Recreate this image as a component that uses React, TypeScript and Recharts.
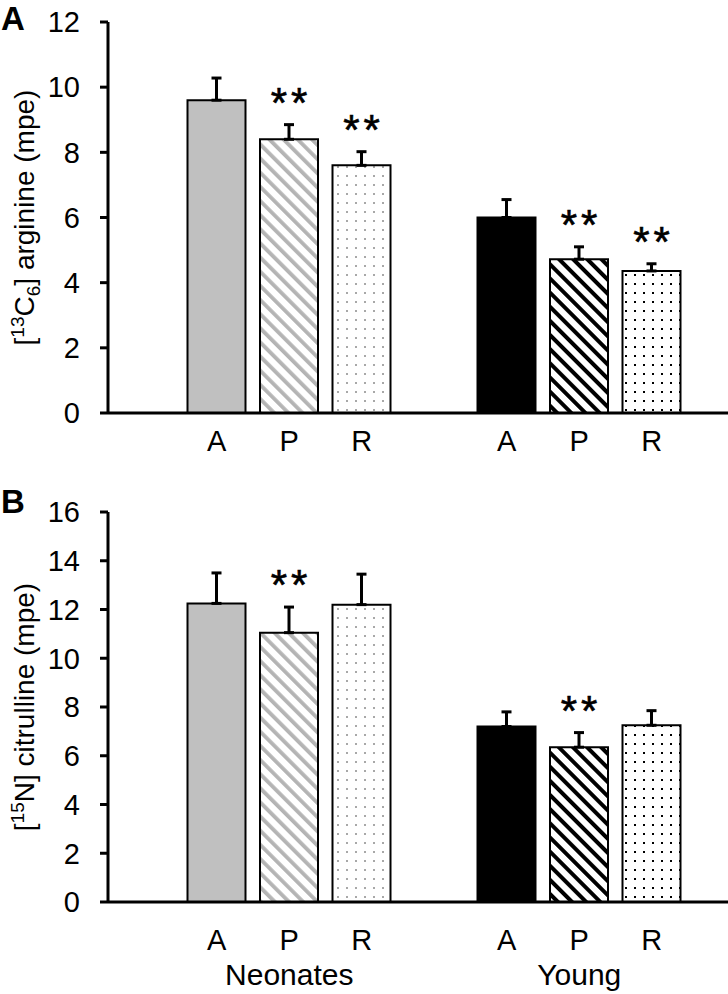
import { BarChart, Bar, XAxis, YAxis, ErrorBar, Cell, LabelList, Label } from "recharts"

const groups = ["Neonates", "Young"]
const treatments = ["A", "P", "R"]

const arginineMean = [9.6, 8.4, 7.6, 6.0, 4.72, 4.36]
const arginineSem = [0.68, 0.45, 0.42, 0.55, 0.38, 0.22]
const arginineSig = ["", "**", "**", "", "**", "**"]
const arginineTicks = [0, 2, 4, 6, 8, 10, 12]

const citrullineMean = [12.25, 11.05, 12.2, 7.2, 6.35, 7.25]
const citrullineSem = [1.25, 1.05, 1.25, 0.6, 0.6, 0.6]
const citrullineSig = ["", "**", "", "", "**", ""]
const citrullineTicks = [0, 2, 4, 6, 8, 10, 12, 14, 16]

const FONT = "'Liberation Sans', Arial, sans-serif"

// fills per group, per treatment
const fills = [
  ["#c0c0c0", "url(#stripeGray)", "url(#dotGray)"],
  ["#000000", "url(#stripeBlack)", "url(#dotBlack)"],
]

type Row = {
  key: string
  label: string
  group: string
  mean: number | null
  err: number[] | null
  sem: number
  sig: string
  fill: string
}

function buildRows(mean: number[], sem: number[], sig: string[]): Row[] {
  const rows: Row[] = []
  groups.forEach((g, gi) => {
    // empty slot before each group
    rows.push({ key: "gap" + gi, label: "", group: "", mean: null, err: null, sem: 0, sig: "", fill: "none" })
    treatments.forEach((t, ti) => {
      const i = gi * treatments.length + ti
      rows.push({
        key: g + "-" + t,
        label: t,
        group: ti === 1 ? g : "",
        mean: mean[i],
        err: [0, sem[i]],
        sem: sem[i],
        sig: sig[i],
        fill: fills[gi][ti],
      })
    })
  })
  return rows
}

const argRows = buildRows(arginineMean, arginineSem, arginineSig)
const citRows = buildRows(citrullineMean, citrullineSem, citrullineSig)

function Patterns() {
  return (
    <defs>
      <pattern id="stripeGray" patternUnits="userSpaceOnUse" width="10" height="10" patternTransform="rotate(-45)">
        <rect width="10" height="10" fill="#fff" />
        <rect x="0" width="3.8" height="10" fill="#b4b4b4" />
      </pattern>
      <pattern id="stripeBlack" patternUnits="userSpaceOnUse" width="10" height="10" patternTransform="rotate(-45)">
        <rect width="10" height="10" fill="#fff" />
        <rect x="0" width="4" height="10" fill="#000" />
      </pattern>
      <pattern id="dotGray" patternUnits="userSpaceOnUse" width="9" height="9">
        <rect width="9" height="9" fill="#fff" />
        <rect x="4" y="4" width="2" height="2" fill="#a8a8a8" />
      </pattern>
      <pattern id="dotBlack" patternUnits="userSpaceOnUse" width="18" height="18">
        <rect width="18" height="18" fill="#fff" />
        <rect x="4" y="4" width="2" height="2" fill="#000" />
        <rect x="13" y="13" width="2" height="2" fill="#000" />
        <rect x="13" y="4" width="2" height="2" fill="#000" />
        <rect x="4" y="13" width="2" height="2" fill="#000" />
      </pattern>
    </defs>
  )
}

function makeTick(rows: Row[], labelDy: number, groupDy: number) {
  return (props: any) => {
    const { x, y, payload } = props
    const row = rows[payload.index]
    if (!row) return <g />
    return (
      <g>
        <text x={x} y={y + labelDy} textAnchor="middle" fontSize={29} fontFamily={FONT} fill="#000">
          {row.label}
        </text>
        {groupDy > 0 && row.group ? (
          <text x={x} y={y + groupDy} textAnchor="middle" fontSize={30} fontFamily={FONT} fill="#000">
            {row.group}
          </text>
        ) : null}
      </g>
    )
  }
}

function makeSig(rows: Row[]) {
  return (props: any) => {
    const { x, y, width, height, value } = props
    const row = rows.find((r) => r.key === value)
    if (!row || !row.sig || !row.mean) return null
    const pxPerUnit = height / row.mean
    const errTop = y - row.sem * pxPerUnit
    return (
      <text
        x={x + width / 2 + 2}
        y={errTop - 8}
        textAnchor="middle"
        fontSize={42}
        letterSpacing={4}
        fontFamily={FONT}
        fill="#000"
        stroke="#000"
        strokeWidth={0.6}
      >
        {row.sig}
      </text>
    )
  }
}

function YTitle({ cx, parts }: { cx: number; parts: any }) {
  return (props: any) => {
    const vb = props.viewBox
    const cy = vb.y + vb.height / 2
    return (
      <text
        x={cx}
        y={cy}
        transform={`rotate(-90 ${cx} ${cy})`}
        textAnchor="middle"
        fontSize={28}
        fontFamily={FONT}
        fill="#000"
      >
        {parts}
      </text>
    )
  }
}

function Panel(props: {
  rows: Row[]
  ticks: number[]
  max: number
  height: number
  top: number
  plotH: number
  labelDy: number
  groupDy: number
  title: any
}) {
  const { rows, ticks, max, height, top, plotH, labelDy, groupDy, title } = props
  return (
    <BarChart
      width={728}
      height={height}
      data={rows}
      margin={{ top, right: 0, left: 0, bottom: 0 }}
      barCategoryGap={0}
    >
      <Patterns />
      <XAxis
        dataKey="key"
        height={height - top - plotH}
        padding={{ left: 0, right: 40 }}
        axisLine={{ stroke: "#000", strokeWidth: 3 }}
        tickLine={false}
        tickSize={0}
        tickMargin={0}
        interval={0}
        tick={makeTick(rows, labelDy, groupDy)}
      />
      <YAxis
        width={108}
        domain={[0, max]}
        ticks={ticks}
        allowDataOverflow
        axisLine={{ stroke: "#000", strokeWidth: 3 }}
        tickLine={{ stroke: "#000", strokeWidth: 3 }}
        tickSize={8}
        tickMargin={20}
        tick={{ fontSize: 29, fontFamily: FONT, fill: "#000" }}
      >
        <Label content={YTitle({ cx: 34, parts: title })} />
      </YAxis>
      <Bar dataKey="mean" barSize={58} stroke="#000" strokeWidth={2} isAnimationActive={false}>
        {rows.map((r) => (
          <Cell key={r.key} fill={r.fill} />
        ))}
        <ErrorBar dataKey="err" direction="y" width={5} stroke="#000" strokeWidth={3} />
        <LabelList dataKey="key" content={makeSig(rows)} />
      </Bar>
    </BarChart>
  )
}

const argTitle = [
  <tspan key="a">[</tspan>,
  <tspan key="b" dy={-10} fontSize={19}>13</tspan>,
  <tspan key="c" dy={10}>C</tspan>,
  <tspan key="d" dy={6} fontSize={19}>6</tspan>,
  <tspan key="e" dy={-6}>] arginine (mpe)</tspan>,
]

const citTitle = [
  <tspan key="a">[</tspan>,
  <tspan key="b" dy={-10} fontSize={19}>15</tspan>,
  <tspan key="c" dy={10}>N] citrulline (mpe)</tspan>,
]

export default function App() {
  return (
    <div style={{ position: "absolute", left: 0, top: 0, width: 728, height: 994, background: "#fff" }}>
      <div style={{ position: "absolute", left: 0, top: 0 }}>
        <Panel
          rows={argRows}
          ticks={arginineTicks}
          max={12}
          height={460}
          top={22}
          plotH={391}
          labelDy={38}
          groupDy={0}
          title={argTitle}
        />
      </div>
      <div style={{ position: "absolute", left: 0, top: 460 }}>
        <Panel
          rows={citRows}
          ticks={citrullineTicks}
          max={16}
          height={534}
          top={52}
          plotH={390}
          labelDy={48}
          groupDy={83}
          title={citTitle}
        />
      </div>
      <div style={{ position: "absolute", left: 1, top: 1, fontFamily: FONT, fontWeight: "bold", fontSize: 33, lineHeight: "36px" }}>
        A
      </div>
      <div style={{ position: "absolute", left: 1, top: 484, fontFamily: FONT, fontWeight: "bold", fontSize: 33, lineHeight: "36px" }}>
        B
      </div>
    </div>
  )
}
